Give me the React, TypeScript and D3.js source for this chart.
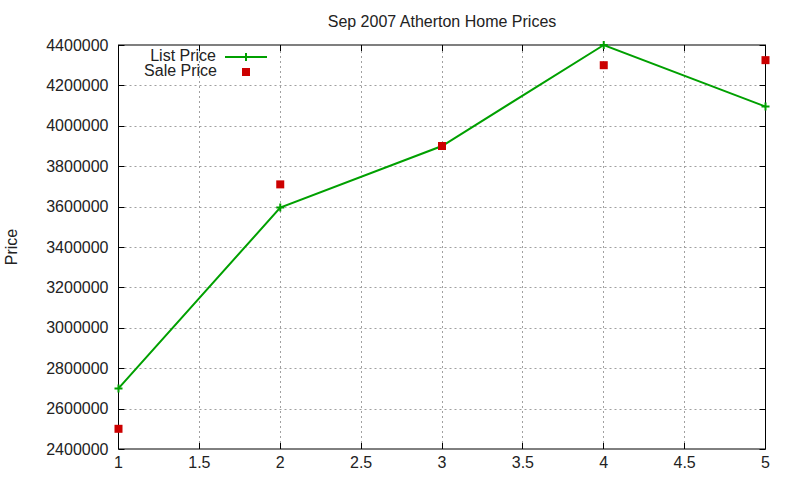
import * as d3 from 'd3';

const xValues = [1, 2, 3, 4, 5];
const listPrice = [2700000, 3595000, 3900000, 4400000, 4095000];
const salePrice = [2500000, 3710000, 3900000, 4300000, 4325000];
const xTicks = [1, 1.5, 2, 2.5, 3, 3.5, 4, 4.5, 5];
const yTicks = [2400000, 2600000, 2800000, 3000000, 3200000, 3400000, 3600000, 3800000, 4000000, 4200000, 4400000];

const W = 800;
const H = 480;
const margin = { top: 45, right: 34.5, bottom: 31, left: 118.5 };
const FONT = '"Liberation Sans", Arial, sans-serif';
const GREEN = '#00a000';
const RED = '#cc0000';

export default function App() {
  const innerW = W - margin.left - margin.right;
  const innerH = H - margin.top - margin.bottom;
  const x = d3.scaleLinear().domain([1, 5]).range([0, innerW]);
  const y = d3.scaleLinear().domain([2400000, 4400000]).range([innerH, 0]);

  const line = d3
    .line<number>()
    .x((_, i) => x(xValues[i]))
    .y((d) => y(d));

  const tick = 6;

  return (
    <svg
      width={W}
      height={H}
      style={{ position: 'absolute', left: 0, top: 0, background: '#fff' }}
    >
      <text x={442} y={27} textAnchor="middle" fontSize={16} fontFamily={FONT} fill="#222">
        Sep 2007 Atherton Home Prices
      </text>
      <text
        transform={`translate(17, 247) rotate(-90)`}
        textAnchor="middle"
        fontSize={16}
        fontFamily={FONT}
        fill="#222"
      >
        Price
      </text>
      <g transform={`translate(${margin.left}, ${margin.top})`}>
        {/* grid */}
        {yTicks.slice(1, -1).map((t) => (
          <line
            key={`gy-${t}`}
            x1={tick}
            x2={innerW - tick}
            y1={Math.round(y(t)) + 0.5}
            y2={Math.round(y(t)) + 0.5}
            stroke="#a0a0a0"
            strokeDasharray="2,3"
            strokeWidth={1}
          />
        ))}
        {xTicks.slice(1, -1).map((t) => (
          <line
            key={`gx-${t}`}
            x1={Math.round(x(t))}
            x2={Math.round(x(t))}
            y1={tick}
            y2={innerH - tick}
            stroke="#a0a0a0"
            strokeDasharray="2,3"
            strokeWidth={1}
          />
        ))}

        {/* tick marks */}
        {yTicks.map((t) => (
          <g key={`ty-${t}`}>
            <line x1={0} x2={tick} y1={Math.round(y(t)) + 0.5} y2={Math.round(y(t)) + 0.5} stroke="#000" />
            <line
              x1={innerW - tick}
              x2={innerW}
              y1={Math.round(y(t)) + 0.5}
              y2={Math.round(y(t)) + 0.5}
              stroke="#000"
            />
            <text
              x={-10}
              y={y(t)}
              dy="0.35em"
              textAnchor="end"
              fontSize={16}
              fontFamily={FONT}
              fill="#222"
            >
              {t}
            </text>
          </g>
        ))}
        {xTicks.map((t) => (
          <g key={`tx-${t}`}>
            <line x1={Math.round(x(t))} x2={Math.round(x(t))} y1={0} y2={tick} stroke="#000" />
            <line x1={Math.round(x(t))} x2={Math.round(x(t))} y1={innerH - tick} y2={innerH} stroke="#000" />
            <text
              x={x(t)}
              y={innerH + 19}
              textAnchor="middle"
              fontSize={16}
              fontFamily={FONT}
              fill="#222"
            >
              {t}
            </text>
          </g>
        ))}

        {/* border */}
        <rect x={0} y={0} width={innerW} height={innerH} fill="none" stroke="#000" strokeWidth={1} />

        {/* list price line */}
        <path d={line(listPrice) ?? undefined} fill="none" stroke={GREEN} strokeWidth={2} />
        {listPrice.map((v, i) => (
          <path
            key={`lp-${i}`}
            d={`M${x(xValues[i]) - 4},${y(v)}h8M${x(xValues[i])},${y(v) - 4}v8`}
            stroke={GREEN}
            strokeWidth={2}
          />
        ))}

        {/* sale price points */}
        {salePrice.map((v, i) => (
          <rect
            key={`sp-${i}`}
            x={x(xValues[i]) - 4}
            y={y(v) - 4}
            width={8}
            height={8}
            fill={RED}
          />
        ))}
      </g>

      {/* legend */}
      <g fontFamily={FONT} fontSize={16} fill="#222">
        <text x={216} y={61} textAnchor="end">
          List Price
        </text>
        <line x1={225} x2={267} y1={57} y2={57} stroke={GREEN} strokeWidth={2} />
        <path d="M242,57h8M246,53v8" stroke={GREEN} strokeWidth={2} />
        <text x={217} y={76} textAnchor="end">
          Sale Price
        </text>
        <rect x={242} y={68} width={8} height={8} fill={RED} />
      </g>
    </svg>
  );
}
